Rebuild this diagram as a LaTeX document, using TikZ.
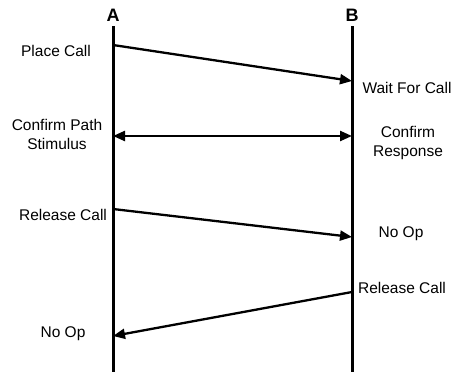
\documentclass[tikz,border=0pt]{standalone}
\usepackage{fontspec}
\setmainfont{Liberation Sans}
\usetikzlibrary{arrows.meta}
\begin{document}
\begin{tikzpicture}[x=1pt,y=-1pt,
  life/.style={line width=3pt},
  msg/.style={line width=2.3pt,-{Triangle[length=12pt,width=10pt]}},
  lbl/.style={font=\fontsize{15.5}{19}\selectfont,align=center,inner sep=0pt},
  head/.style={font=\fontsize{18}{18}\selectfont\bfseries,inner sep=0pt}]
\useasboundingbox (0,0) rectangle (459,376);
\node[head] (A) at (113,15) {A};
\node[head] (B) at (352,15) {B};
\coordinate (At) at (113,26); \coordinate (Ab) at (113,372);
\coordinate (Bt) at (352,26); \coordinate (Bb) at (352,372);
\draw[life] (At) -- (Ab);
\draw[life] (Bt) -- (Bb);
\coordinate (a1) at (113,45); \coordinate (b1) at (352,81);
\coordinate (a2) at (113,136); \coordinate (b2) at (352,136);
\coordinate (a3) at (113,209); \coordinate (b3) at (352,237);
\coordinate (b4) at (352,292); \coordinate (a4) at (113,336);
\draw[msg] (a1) -- (b1);
\draw[msg,{Triangle[length=12pt,width=10pt]}-{Triangle[length=12pt,width=10pt]}] (a2) -- (b2);
\draw[msg] (a3) -- (b3);
\draw[msg] (b4) -- (a4);
\node[lbl] (l1) at (56,51) {Place Call};
\node[lbl] (r1) at (407,88) {Wait For Call};
\node[lbl] (l2) at (57,134) {Confirm Path\\Stimulus};
\node[lbl] (r2) at (408,143) {Confirm\\Response};
\node[lbl] (l3) at (63,215) {Release Call};
\node[lbl] (r3) at (401,234) {No Op};
\node[lbl] (r4) at (402,288) {Release Call};
\node[lbl] (l4) at (63,334) {No Op};
\end{tikzpicture}
\end{document}
